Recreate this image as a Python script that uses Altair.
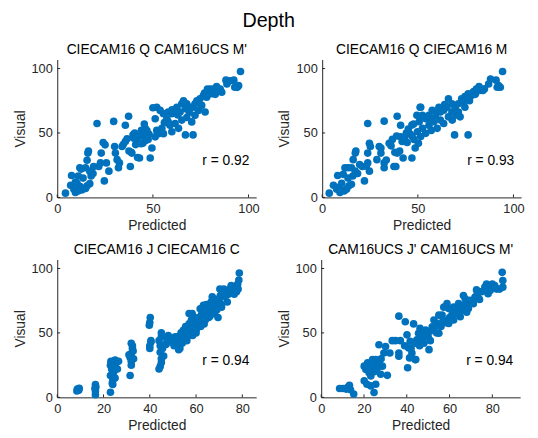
import altair as alt
import pandas as pd

FONT = "Liberation Sans"
BLUE = "#0072BD"
AX = "#262626"

main_title = "Depth"
titles = ["CIECAM16 Q CAM16UCS M'", "CIECAM16 Q CIECAM16 M",
          "CIECAM16 J CIECAM16 C", "CAM16UCS J' CAM16UCS M'"]
r_labels = ["r = 0.92", "r = 0.93", "r = 0.94", "r = 0.94"]
x_max = [104, 104, 86, 93]
x_ticks = [[0, 50, 100], [0, 50, 100], [0, 20, 40, 60, 80], [0, 20, 40, 60, 80]]
y_ticks = [0, 50, 100]
Y_MAX = 107

# (Predicted, Visual) pairs
p1 = [(4.3,3.3),(7,9.4),(7.5,17),(8.7,6.4),(9.5,3.8),(10.4,11),(11,16.6),(11.8,23),(12,8.5),(13,5.9),
      (14.8,6.9),(15.6,9),(17,10.7),(14.8,23),(15.6,28.8),(16,34.4),(16.3,36),(17,20.4),(17.7,16.6),(18.7,18.6),
      (19,24),(20.8,57.4),(21.7,24),(22.6,26.8),(23,34.4),(24,42.6),(24.6,12.8),(25,40.8),(25.7,26.8),(27,20.4),
      (9.5,12),(11,5),(13.5,15),(12.5,22),
      (29.5,59),(30,39.5),(30.4,34.4),(31.3,29.3),(32,23),(32.5,26.8),(33.9,39.5),(35.6,56),(37.3,63),(35.6,43.4),
      (36.5,45.5),(38.2,24),(39,34.4),(40,46),(39.6,48.5),(41.7,44),(43,30.6),(43.8,41.6),(45,47.7),(46,53.6),
      (46.9,51.8),(48.6,30.6),(49.5,38.3),(50,69.6),(45.5,57),(44.7,42),(42,31),(40.5,50),(41,41),(38.7,35),
      (37.5,36),(34.5,41),(44,52),(47.5,45),(48,49),(42.5,47),(46,44),
      (95.8,97.7),(92.3,91),(94.1,85.4),(92.8,85.5),(88.7,88),(88.2,91),(85.2,84),(83.6,83.4),(80.7,82),(79,80),
      (78.1,77.8),(76.4,79),(74.6,76.5),(73,75),(72,72.7),(71,70),(69.5,70),(67.7,72.7),(67,68.8),(65.1,72.7),
      (64.2,66.3),(62.5,70),(61.6,66.3),(59.9,65),(58,66.3),(57.3,61),(55.5,65),(53.8,67.5),(52,70),(51.2,61),
      (52,52),(52.9,49.5),(51.2,47),(54.7,53.6),(55.5,49.5),(58,58.6),(58.9,56),(59.9,51),(61.6,57.4),(63.4,53.6),
      (65.1,60),(67,48.5),(71,48.5),(67.7,62),(70.3,58.6),(75.5,71.4),(77.3,66.3),(73.8,67.5),(72,63.7),(82.6,80),
      (84.4,82.7),(86,81.6),(90.4,90.5),(94.8,86.7),(81.6,84),(80,84),(78.5,84),(83.3,86),(60,68),(63,64),
      (56,58),(66,75),(69,66),(79.5,83),(81,80.5),(77,81)]

p2 = [(3.7,3.3),(5.9,9.4),(7.6,6.4),(9.3,3.8),(8.1,17),(11,17.9),(10.2,11),(12.7,6.4),(15.3,10.2),(11.9,23),
      (13.5,23),(16.2,29.3),(17.3,34.4),(17.6,36),(15.3,23),(17.3,20.4),(19.6,25.5),(22.1,12.8),(23.8,57.4),(23,24.2),
      (23.8,26.8),(23.8,34.4),(24.7,42),(25.2,39.5),(24.7,20.4),(9,8),(11.5,5),(13.5,15),(14,9),(18.5,18.6),
      (21,24),(16,16.6),
      (32.4,59.2),(29.8,39.5),(30.7,34.4),(28.6,29.3),(32.4,26.8),(33.5,29),(39.2,63),(41,56),(39.2,34.4),(37.5,24),
      (32.4,23),(30.7,38.3),(36.7,45),(38.9,47.7),(41.8,43.4),(42.3,30.6),(38.5,24),(44.4,42.6),(46,49.2),(46.9,56.1),
      (47.8,57),(49.5,63.8),(51.2,70),(51.2,62.5),(46.9,30.6),(48.6,38.3),(50.3,42),(35,42),(36,40),(40.5,36),
      (43,46),(44,50),(45,53),(41,47),(38,35),(48,45),(47,47.5),
      (94.3,97.7),(90.9,91),(93.1,85.5),(91.5,85.5),(88,91.8),(87,88),(84,83),(82.3,83),(80.6,84),(79,82),
      (78,79),(76.3,80.4),(74.6,78.3),(72.9,76.5),(71.2,72.7),(69.5,70),(67.8,72.7),(66,76.5),(65.2,70),(63.5,67.6),
      (61.8,66.3),(61,70),(59.2,62.5),(57.5,67.6),(55.8,63.8),(54.1,61),(51.5,70),(52.4,63.8),(50.7,58.7),(49.8,51),
      (51.5,47.2),(52.4,53.6),(54.1,49.7),(55.8,56),(58.4,58.7),(60.1,53.6),(61.8,60),(63.5,57.4),(66,62.5),(67.8,66.3),
      (71.2,66.3),(72.1,62.5),(69.2,48.5),(76.3,48.5),(74.6,70),(79.7,82.3),(84.8,84.2),(92.2,86.7),(73.8,74),(80,80),
      (82,86),(77,75),(64,72),(60,66),(56,60),(68,60),(70,64),(57,52)]

p3 = [(8.5,5),(9,6),(9.5,7),(8.7,6.5),(9.3,5.5),
      (16.5,2),(16.5,5),(16.7,8),(16.5,10),(16.3,7),
      (23,4),(23,17),(23.5,22),(23,25),(23.2,28),(24,10),(24,13),(24.5,20),(25,24),(25.5,27),
      (26,22),(26.5,28),(24,18),(25,15),(23.8,11),(25,29),(24.3,26),
      (31.5,17),(32,25),(32,28),(31.5,31),(32,34),(32.5,38),(32,42),(33,30),(32.8,36),(31,33),(32.5,40),
      (40,38),(40,40),(40.5,44),(39.8,56),(40,58),(40.2,62),(40.5,43),
      (44,22),(44.5,24),(45,27),(45,30),(44.5,35),(45.5,38),(44,44),(45,47),(45,50),(44.5,40),(46,32),
      (47,41),(47.5,46),(48,48),(49,43),(50,45),(50.5,40),(51,47),(52,43),(52.5,37),(53,45),
      (53.5,50),(54,42),(54.5,52),(55,47),(55.5,55),(56,44),(56.5,49),(57,57),(57.5,53),(57,65),
      (58,60),(58.5,48),(59,55),(59.5,62),(60,52),(60.5,58),(61,60),(62,63),(62.5,67),(63,70),
      (63.5,57),(64,65),(64.5,72),(65,68),(65.5,62),(66,70),(66.5,74),(67,78),(67.5,66),(68,72),
      (68.5,76),(69,68),(69.5,62),(70,75),(70.5,79),(71,72),(72,84),(72.5,78),(73,82),(73.5,74),
      (74,80),(75,85),(76,83),(76.5,80),(77,86),(77.5,82),(78,88),(78.5,91),(78.7,96.5),(78.2,84),
      (71,70),(60,50),(56,46),(53,38),(49,46),(62,55),(64,60),(66,63),(68,65),(52,47),(58,54),
      (75.2,86.7),(73.8,83),(70.3,84),(66.8,70),(63.2,71.4),(61.8,68.8),(60.4,61),(58.3,65),(55.5,52.3),(47,42)]

p4 = [(8.6,6.9),(10.1,6.9),(11.7,6.4),(13.2,9.4),(13.7,5.9),(15.2,2.6),(12.4,7.7),
      (20.1,12.8),(21.4,10.2),(23.2,8.9),(24.7,3.8),(25.5,10.2),(20.1,24.2),(20.9,21.7),(21.7,26.8),(22.4,19),
      (23.2,23),(24,29.3),(23.2,16.6),(24.7,25.5),(25.5,29.3),(26.3,23),(27,26.8),(27,40.8),(27.8,17.9),(28.6,24.2),
      (29.3,34.4),(30.1,39.5),(30.9,17.1),(32.1,34.4),(33.2,44),(34.7,44),(36.3,63),(36.3,34.4),(37,44),(36.3,31.9),
      (39.3,58.7),(40.1,48.5),(40.4,23),(40.9,38.3),(41.6,43.4),(42.4,34.4),(43.2,57),(43.9,29.3),(44.7,44.6),(45.5,49.7),
      (46.2,53.6),(41.3,30.6),(22,22),(25,20),(28,30),(39,40),(42,38),
      (84.6,97),(84.9,90.6),(84.9,85.5),(83.4,84),(81.1,86.7),(78.8,85.5),(78,80.4),(76.5,85.5),(77.3,88),(72.6,83.4),
      (71.9,77.8),(71.1,72.7),(69.6,75.3),(68.8,68.9),(67.3,76.5),(66.5,79),(65.7,67.6),(64.2,72.7),(63.4,65),(61.9,70),
      (61.1,63.8),(59.6,68.9),(58.8,72.7),(57.3,70),(56.5,63.8),(55,63.8),(54.2,57.4),(52.7,60),(51.9,54.8),(50.4,51),
      (48.8,52.3),(48,47.2),(46.5,48.5),(45.8,43.4),(44.2,42),(44.2,29.3),(50.4,37),(55,49.7),(59.6,57.4),(61.9,60),
      (65,62.5),(47,45),(49,50),(50,47),(52,52),(53,55),(46,40),(48,42),(51,44),(54,50),
      (56,55),(57,60),(58,58),(60,62),(62,65),(63,68),(65,70),(67,72),(68,66),(70,74),
      (73,80),(74,76),(75,82),(79,83),(80,88),(82,84)]

panels = [p1, p2, p3, p4]

W, H = 202, 140


def panel(i):
    df = pd.DataFrame(panels[i], columns=["pred", "vis"])
    xs = alt.Scale(domain=[0, x_max[i]], nice=False, zero=False)
    ys = alt.Scale(domain=[0, Y_MAX], nice=False, zero=False)
    xenc = alt.X("pred:Q", scale=xs, axis=alt.Axis(values=x_ticks[i], title="Predicted"))
    yenc = alt.Y("vis:Q", scale=ys, axis=alt.Axis(values=y_ticks, title="Visual"))
    pts = alt.Chart(df).mark_circle(size=60, color=BLUE, opacity=1).encode(x=xenc, y=yenc)
    xt = alt.Chart(pd.DataFrame({"pred": x_ticks[i]})).mark_rule(color=AX).encode(
        x=xenc, y=alt.value(H), y2=alt.value(H - 3)
    )
    yt = alt.Chart(pd.DataFrame({"vis": y_ticks})).mark_rule(color=AX).encode(
        y=yenc, x=alt.value(0), x2=alt.value(3)
    )
    txt = alt.Chart(pd.DataFrame({"t": [r_labels[i]]})).mark_text(
        align="right", baseline="middle", fontSize=14, font=FONT, color="#000"
    ).encode(text="t:N", x=alt.value(W - 7), y=alt.value(103))
    return alt.layer(pts, xt, yt, txt).properties(
        width=W, height=H,
        title=alt.TitleParams(titles[i], fontSize=14, fontWeight="normal", font=FONT,
                              color="#000", offset=3),
    )


top = alt.hconcat(panel(0), panel(1), spacing=18)
bottom = alt.hconcat(panel(2), panel(3), spacing=21)

chart = alt.vconcat(top, bottom, spacing=10).properties(
    title=alt.TitleParams(main_title, fontSize=20, fontWeight="normal", font=FONT,
                          color="#000", anchor="middle", offset=9, dy=-3),
    background="white",
    padding={"left": 5, "top": 0, "right": 5, "bottom": 5},
).configure_view(stroke=None).configure_axis(
    domainColor=AX, domainWidth=1, ticks=False, grid=False,
    labelFont=FONT, labelFontSize=13, labelColor=AX, labelPadding=5, labelFlush=False,
    titleFont=FONT, titleFontSize=14, titleFontWeight="normal", titleColor=AX, titlePadding=4,
)

chart.save("out.html", embed_options={"renderer": "svg", "actions": False})
